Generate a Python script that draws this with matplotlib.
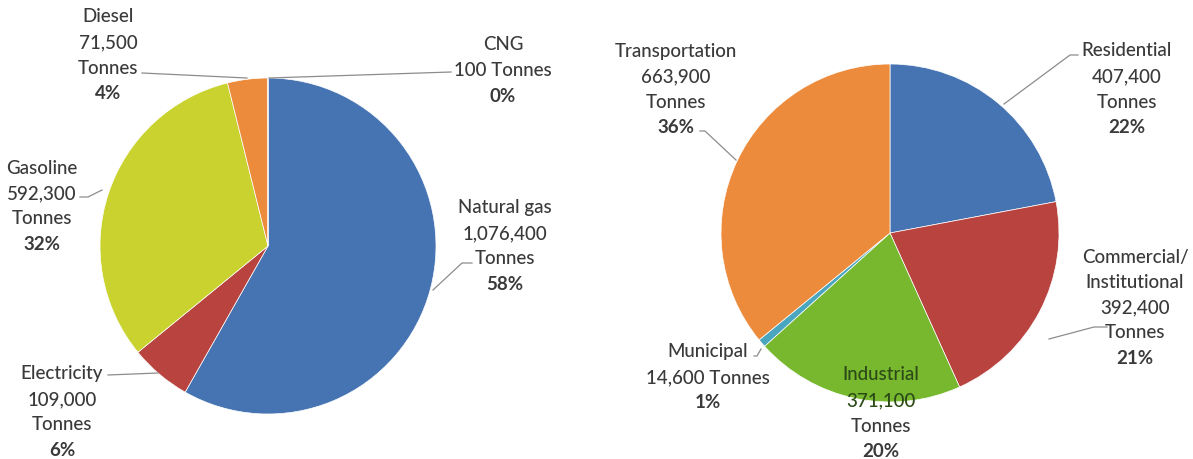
import matplotlib.pyplot as plt

# Left pie: emissions by fuel
fuel_names = ['Natural gas', 'Electricity', 'Gasoline', 'Diesel', 'CNG']
fuel_tonnes = [1076400, 109000, 592300, 71500, 100]
fuel_amounts = ['1,076,400', '109,000', '592,300', '71,500', '100']
fuel_pct = ['58%', '6%', '32%', '4%', '0%']
fuel_colors = ['#4674B2', '#B9443F', '#C9D22E', '#EC8B3C', '#7E62A1']

# Right pie: emissions by sector
sector_names = ['Residential', 'Commercial/\nInstitutional', 'Industrial', 'Municipal', 'Transportation']
sector_tonnes = [407400, 392400, 371100, 14600, 663900]
sector_amounts = ['407,400', '392,400', '371,100', '14,600', '663,900']
sector_pct = ['22%', '21%', '20%', '1%', '36%']
sector_colors = ['#4674B2', '#B9443F', '#77B82F', '#4AA5BE', '#EC8B3C']

W, H = 1193, 459
plt.rcParams['font.family'] = ['Lato', 'DejaVu Sans']

fig = plt.figure(figsize=(W / 100, H / 100), dpi=100)
ax = fig.add_axes([0, 0, 1, 1])

def Y(y):
    return H - y

ax.pie(fuel_tonnes, colors=fuel_colors, startangle=90, counterclock=False,
       center=(268, Y(246)), radius=168,
       wedgeprops=dict(edgecolor='white', linewidth=0.5))
ax.pie(sector_tonnes, colors=sector_colors, startangle=90, counterclock=False,
       center=(890, Y(233)), radius=169,
       wedgeprops=dict(edgecolor='white', linewidth=0.5))

ax.set_xlim(0, W)
ax.set_ylim(0, H)
ax.set_aspect('equal')
ax.axis('off')

txt = '#3a3a3a'
line_c = '#8c8c8c'

def label(x, y0, lines, bold_last=True, color=txt, step=25.5):
    for i, s in enumerate(lines):
        bold = bold_last and i == len(lines) - 1
        c = color[i] if isinstance(color, list) else color
        ax.text(x, Y(y0 + i * step), s, ha='center', va='center', fontsize=13.5,
                color=c, fontweight='bold' if bold else 'medium')

def leader(pts):
    ax.plot([p[0] for p in pts], [Y(p[1]) for p in pts], color=line_c, lw=0.9)

# left pie labels
label(108, 17, ['Diesel', fuel_amounts[3], 'Tonnes', fuel_pct[3]])
leader([(142, 73), (247, 78)])
label(503, 45, ['CNG', fuel_amounts[4] + ' Tonnes', fuel_pct[4]])
leader([(451, 72), (269, 78)])
label(505, 208, [fuel_names[0], fuel_amounts[0], 'Tonnes', fuel_pct[0]])
leader([(472, 263), (462, 263), (433, 290)])
label(42, 168, [fuel_names[2], fuel_amounts[2], 'Tonnes', fuel_pct[2]])
leader([(80, 197), (88, 197), (102, 190)])
label(62, 374, [fuel_names[1], fuel_amounts[1], 'Tonnes', fuel_pct[1]])
leader([(108, 375), (158, 373)])

# right pie labels
label(676, 51, [sector_names[4], sector_amounts[4], 'Tonnes', sector_pct[4]])
leader([(700, 131), (705, 131), (736, 160)])
label(1127, 51, [sector_names[0], sector_amounts[0], 'Tonnes', sector_pct[0]])
leader([(1078, 55), (1070, 55), (1004, 104)])
label(1135, 258, ['Commercial/', 'Institutional', sector_amounts[1], 'Tonnes', sector_pct[1]],
      step=25)
leader([(1107, 327), (1094, 327), (1049, 339)])
label(708, 352, [sector_names[3], sector_amounts[3] + ' Tonnes', sector_pct[3]])
leader([(754, 356), (757, 356), (761, 349)])
label(881, 375, [sector_names[2], sector_amounts[2], 'Tonnes', sector_pct[2]],
      color=['#2b4a17', '#2b4a17', txt, txt])

fig.savefig('out.png', dpi=100)
